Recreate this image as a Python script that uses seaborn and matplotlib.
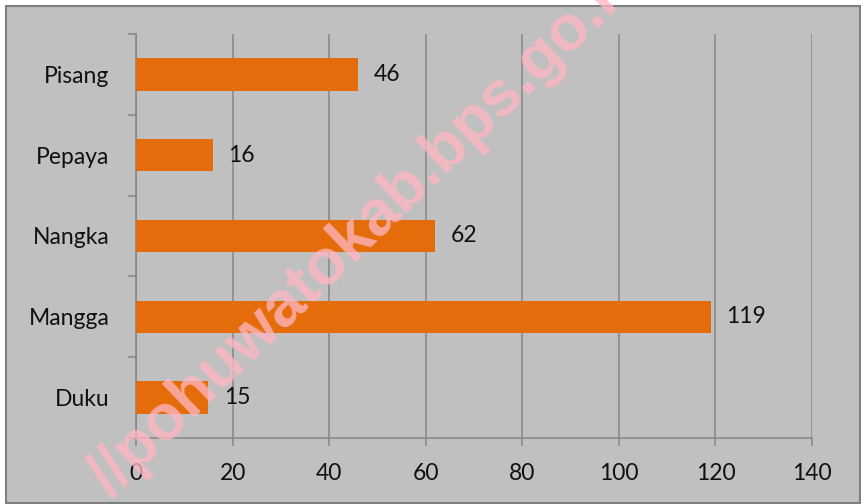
import matplotlib
matplotlib.use("Agg")
import matplotlib.pyplot as plt
from matplotlib.patches import Rectangle
from matplotlib.ticker import FixedLocator
import pandas as pd
import seaborn as sns

categories = ['Pisang', 'Pepaya', 'Nangka', 'Mangga', 'Duku']
values = [46, 16, 62, 119, 15]
x_ticks = [0, 20, 40, 60, 80, 100, 120, 140]
watermark = '//pohuwatokab.bps.go.id'

plt.rcParams['font.family'] = ['Lato', 'DejaVu Sans']

bar_color = '#E46C0A'
bg = '#C0C0C0'
line_col = '#868686'
text_col = '#111111'

df = pd.DataFrame({'Buah': categories, 'Jumlah': values})

fig = plt.figure(figsize=(8.62, 5.04), dpi=100, facecolor='white')
# grey chart area with a border
fig.patches.append(Rectangle((6 / 862, 1.5 / 504), 854 / 862, 497 / 504,
                             transform=fig.transFigure, facecolor=bg,
                             edgecolor='#7F7F7F', linewidth=1.5, zorder=-5))

ax = fig.add_axes([136 / 862, 66 / 504, 676 / 862, 404 / 504])
ax.set_facecolor('none')

sns.barplot(data=df, x='Jumlah', y='Buah', orient='h', color=bar_color,
            saturation=1, width=0.4, ax=ax, zorder=3)

for c in ax.containers:
    ax.bar_label(c, labels=[str(v) for v in values], padding=11,
                 fontsize=16.5, color=text_col)

ax.set_xlim(0, 140)
ax.set_ylim(len(categories) - 0.5, -0.5)
ax.set_xticks(x_ticks)
ax.set_xlabel('')
ax.set_ylabel('')

ax.xaxis.grid(True, color=line_col, linewidth=1.1, zorder=1)
ax.set_axisbelow(True)

for s in ['top', 'right']:
    ax.spines[s].set_visible(False)
for s in ['left', 'bottom']:
    ax.spines[s].set_color(line_col)
    ax.spines[s].set_linewidth(1.1)

ax.yaxis.set_minor_locator(FixedLocator([i - 0.5 for i in range(len(categories) + 1)]))
ax.tick_params(axis='y', which='major', length=0, pad=19, labelsize=16.5, labelcolor=text_col)
ax.tick_params(axis='y', which='minor', length=6, width=1.1, color=line_col, direction='out')
ax.tick_params(axis='x', which='major', length=6, width=1.1, color=line_col, pad=12,
               labelsize=16.5, labelcolor=text_col)

fig.text(368 / 862, 1 - 226 / 504, watermark, fontsize=46, fontweight='bold',
         family='Liberation Sans', color='lightpink', alpha=0.78,
         rotation=44, ha='center', va='center', rotation_mode='anchor', zorder=10)

fig.savefig('out.png', dpi=100, facecolor='white')
